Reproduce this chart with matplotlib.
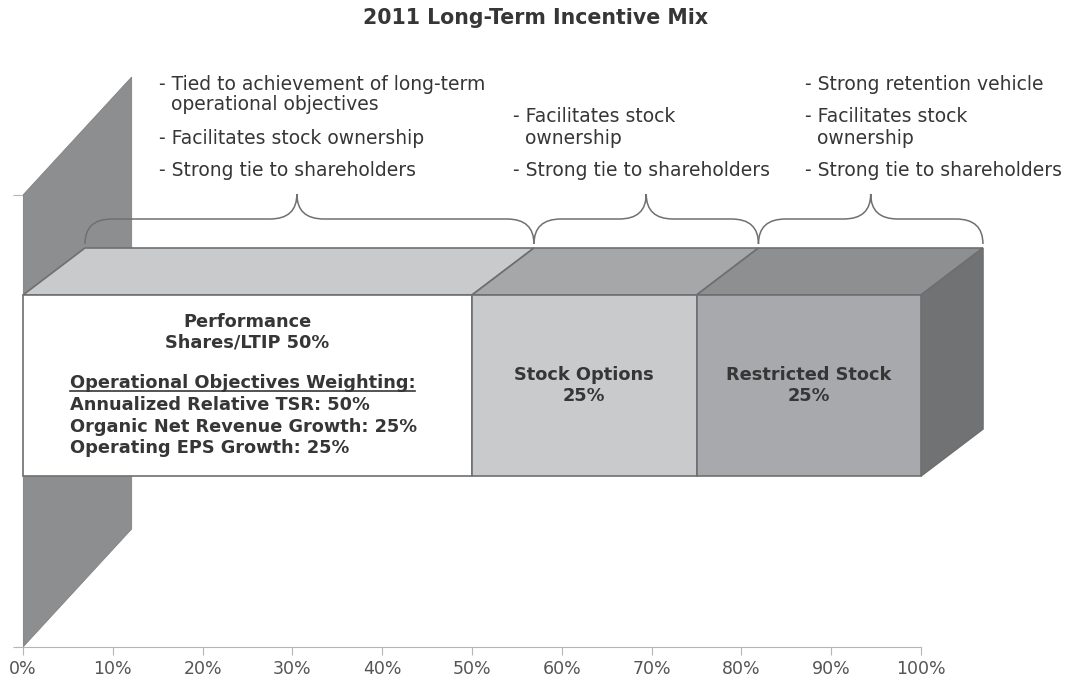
import matplotlib.pyplot as plt
from matplotlib.patches import Polygon, PathPatch
from matplotlib.path import Path

# data
segments = ["Performance\nShares/LTIP 50%", "Stock Options\n25%", "Restricted Stock\n25%"]
shares = [50, 25, 25]
objectives_title = "Operational Objectives Weighting:"
objectives = [
    "Annualized Relative TSR: 50%",
    "Organic Net Revenue Growth: 25%",
    "Operating EPS Growth: 25%",
]
bullets = [
    ["Tied to achievement of long-term\noperational objectives", "Facilitates stock ownership", "Strong tie to shareholders"],
    ["Facilitates stock\nownership", "Strong tie to shareholders"],
    ["Strong retention vehicle", "Facilitates stock\nownership", "Strong tie to shareholders"],
]
xticks = list(range(0, 101, 10))

# styling / geometry (y in pixel units above the baseline, baseline at 647 px from top)
front_colors = ["#ffffff", "#c9cacc", "#a8a9ac"]
top_colors = ["#c9cacc", "#a6a7a9", "#8e8f91"]
side_color = "#717274"
wall_color = "#8d8e90"
edge = "#6e6f71"
text_dark = "#363636"
base_px = 647
bar_y0, bar_y1 = 171, 352
depth_x, depth_y = 6.9, 47
wall_top, wall_dx, wall_dy = 452, 12.1, 118
bullet_x = [15.2, 54.6, 87.1]
brace_tip_shift = [-1.4, 0, 0]
bullet_bottom = base_px - 171
bullet_gap, wrap_gap = 33, 21
label_size = 12.8

plt.rcParams["font.family"] = ["DejaVu Sans"]

fig = plt.figure(figsize=(10.68, 6.89), dpi=100)
ax = fig.add_axes([23 / 1068, 42 / 689, 898 / 1068, 587 / 689])
ax.set_xlim(0, 100)
ax.set_ylim(0, 587)

# back wall
ax.add_patch(Polygon([(0, 0), (wall_dx, wall_dy), (wall_dx, wall_top + wall_dy), (0, wall_top)],
                     closed=True, facecolor=wall_color, edgecolor="#808183", lw=0.6, zorder=1))

# stacked 3d bar
left = 0
for i, v in enumerate(shares):
    right = left + v
    ax.add_patch(Polygon([(left, bar_y1), (right, bar_y1), (right + depth_x, bar_y1 + depth_y),
                          (left + depth_x, bar_y1 + depth_y)], closed=True,
                         facecolor=top_colors[i], edgecolor=edge, lw=1.2, zorder=3, clip_on=False))
    ax.add_patch(Polygon([(left, bar_y0), (right, bar_y0), (right, bar_y1), (left, bar_y1)], closed=True,
                         facecolor=front_colors[i], edgecolor=edge, lw=1.2, zorder=4, clip_on=False))

    # brace over the back edge of the top face
    bx0, bx1 = left + depth_x, right + depth_x
    bm = (bx0 + bx1) / 2 + brace_tip_shift[i]
    yb = bar_y1 + depth_y + 4
    ym, yt = yb + 25, yb + 50
    r = 3.0
    verts = [(bx0, yb), (bx0, ym), (bx0 + r, ym),
             (bm - r, ym), (bm, ym), (bm, yt),
             (bm, ym), (bm + r, ym),
             (bx1 - r, ym), (bx1, ym), (bx1, yb)]
    codes = [Path.MOVETO, Path.CURVE3, Path.CURVE3,
             Path.LINETO, Path.CURVE3, Path.CURVE3,
             Path.CURVE3, Path.CURVE3,
             Path.LINETO, Path.CURVE3, Path.CURVE3]
    ax.add_patch(PathPatch(Path(verts, codes), facecolor="none", edgecolor="#707070", lw=1.1,
                           zorder=5, clip_on=False))

    # bullet notes above each brace, stacked from the bottom up
    y = bullet_bottom
    for b in reversed(bullets[i]):
        parts = b.split("\n")
        for j, p in enumerate(reversed(parts)):
            first = j == len(parts) - 1
            ax.text(bullet_x[i], y, ("- " if first else "  ") + p, ha="left", va="center",
                    fontsize=13.5, color=text_dark, clip_on=False)
            y += bullet_gap if first else wrap_gap

    if i > 0:
        ax.text((left + right) / 2, (bar_y0 + bar_y1) / 2, segments[i], ha="center", va="center",
                fontsize=label_size, fontweight="bold", color=text_dark, linespacing=1.2, zorder=6)
    left = right

# right side of the bar
ax.add_patch(Polygon([(left, bar_y0), (left + depth_x, bar_y0 + depth_y), (left + depth_x, bar_y1 + depth_y),
                      (left, bar_y1)], closed=True, facecolor=side_color, edgecolor=edge, lw=1.2,
                     zorder=3, clip_on=False))

# first segment text block
ax.text(shares[0] / 2, base_px - 332, segments[0], ha="center", va="center", fontsize=label_size,
        fontweight="bold", color=text_dark, linespacing=1.2, zorder=6)
t = ax.text(5.2, base_px - 383, objectives_title, ha="left", va="center", fontsize=label_size,
            fontweight="bold", color=text_dark, zorder=6)
for k, line in enumerate(objectives):
    ax.text(5.2, base_px - 405 - k * 21.5, line, ha="left", va="center", fontsize=label_size,
            fontweight="bold", color=text_dark, zorder=6)

fig.canvas.draw()
bb = t.get_window_extent().transformed(ax.transData.inverted())
ax.plot([bb.x0, bb.x1], [bb.y0 + 1, bb.y0 + 1], color=text_dark, lw=1.2, zorder=6)

# axes
for s in ["top", "right"]:
    ax.spines[s].set_visible(False)
ax.spines["bottom"].set_color("#b5b5b5")
ax.spines["left"].set_color("#8a8a8a")
ax.spines["left"].set_bounds(0, wall_top)
ax.set_xticks(xticks)
ax.set_xticklabels([f"{x}%" for x in xticks])
ax.set_yticks([0, wall_top])
ax.set_yticklabels([])
ax.tick_params(axis="x", colors="#b5b5b5", labelcolor="#555555", labelsize=12.5, length=6, pad=3)
ax.tick_params(axis="y", colors="#b5b5b5", length=7)

fig.text(536 / 1068, 1 - 18 / 689, "2011 Long-Term Incentive Mix", ha="center", va="center",
         fontsize=14.8, fontweight="bold", color=text_dark)

fig.savefig("out.png", dpi=100)
